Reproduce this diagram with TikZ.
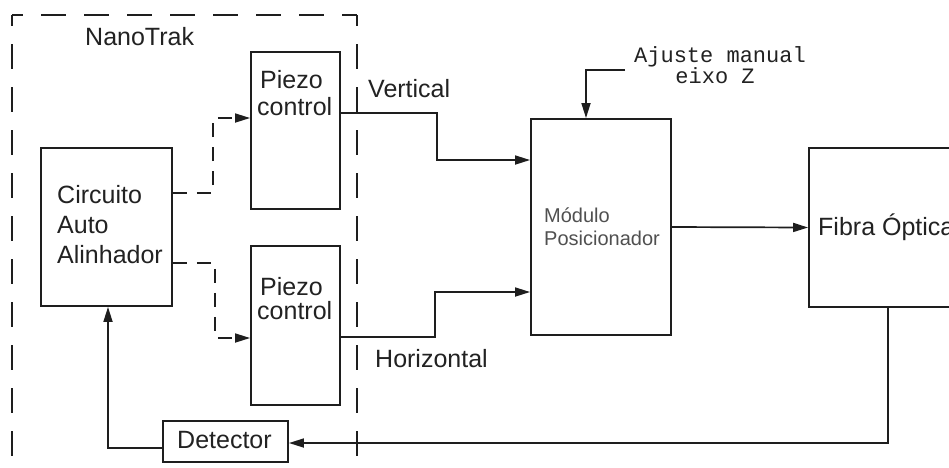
\documentclass[tikz,border=0pt]{standalone}
\usepackage{fontspec}
\setmainfont{Liberation Sans}
\newfontfamily\monof{Liberation Mono}
\usetikzlibrary{arrows.meta,calc}
\definecolor{ink}{HTML}{1E1E1E}
\definecolor{txt}{HTML}{222222}
\definecolor{soft}{HTML}{505050}
\begin{document}
\begin{tikzpicture}[x=1pt,y=-1pt,
  box/.style={draw=ink,line width=1.9pt,rectangle,inner sep=0pt},
  lbl/.style={anchor=base west,inner sep=0pt,text=txt,font=\fontsize{25}{30}\selectfont},
  small/.style={anchor=base west,inner sep=0pt,text=soft,font=\fontsize{20}{23}\selectfont},
  mono/.style={anchor=base,inner sep=0pt,text=txt,font=\monof\fontsize{22}{22}\selectfont},
  conn/.style={draw=ink,line width=1.7pt,-{Triangle[length=15pt,width=9pt]}},
  dconn/.style={conn,dash pattern=on 14pt off 10pt},
  frame/.style={draw=ink,line width=1.9pt,dash pattern=on 25pt off 18pt,dash phase=14pt}
]
\clip (0,0) rectangle (949,467);
\fill[white] (0,0) rectangle (949,467);

% dashed NanoTrak frame
\draw[frame] (12,15) -- (357,15);
\draw[frame] (12,15) -- (12,490);
\draw[frame] (357,15) -- (357,490);
\node[lbl] (nt) at (85,45) {NanoTrak};

% boxes
\node[box,minimum width=131pt,minimum height=158pt] (circ) at (106.5,227) {};
\node[box,minimum width=89pt,minimum height=157pt] (pz1) at (295.5,130.5) {};
\node[box,minimum width=89pt,minimum height=159pt] (pz2) at (295.5,325.5) {};
\node[box,minimum width=125pt,minimum height=41pt] (det) at (225.5,441.5) {};
\node[box,minimum width=140pt,minimum height=216pt] (mod) at (601,227) {};
\node[box,minimum width=160pt,minimum height=159pt] (fib) at (889,227.5) {};

% texts
\node[lbl] (c1) at (57,203) {Circuito};
\node[lbl] (c2) at (57,233) {Auto};
\node[lbl] (c3) at (57,263) {Alinhador};
\node[lbl] (p1a) at (260,88) {Piezo};
\node[lbl] (p1b) at (257,115) {control};
\node[lbl] (p2a) at (260,295) {Piezo};
\node[lbl] (p2b) at (257,319) {control};
\node[lbl] (dt) at (177,448) {Detector};
\node[lbl] (vt) at (368,97) {Vertical};
\node[lbl] (hz) at (375,367) {Horizontal};
\node[lbl] (fb) at (818,235) {Fibra Óptica};
\node[small] (m1) at (544,222) {Módulo};
\node[small] (m2) at (544,245) {Posicionador};
\node[mono] (aj1) at (720,62) {Ajuste manual};
\node[mono] (aj2) at (715,83) {eixo Z};

% turning points
\coordinate (d1) at (213,193);
\coordinate (d2) at (213,118);
\coordinate (d3) at (215,263);
\coordinate (d4) at (215,338);
\coordinate (v1) at (437,113);
\coordinate (v2) at (437,160);
\coordinate (h1) at (435,337);
\coordinate (h2) at (435,292);
\coordinate (ajs) at (625,70);
\coordinate (ajc) at (586,70);
\coordinate (fbk) at (888,443);
\coordinate (dc) at (108,448);

% connectors
\draw[dconn] (circ.east |- d1) -- (d1) -- (d2) -- (pz1.west |- d2);
\draw[dconn] (circ.east |- d3) -- (d3) -- (d4) -- (pz2.west |- d4);
\draw[conn] (pz1.east |- v1) -- (v1) -- (v2) -- (mod.west |- v2);
\draw[conn] (pz2.east |- h1) -- (h1) -- (h2) -- (mod.west |- h2);
\draw[conn] (ajs) -- (ajc) -- (mod.north -| ajc);
\draw[conn] (mod.east) -- (fib.west);
\draw[conn] (fib.south -| fbk) -- (fbk) -- (det.east |- fbk);
\draw[conn] (det.west |- dc) -- (dc) -- (circ.south -| dc);
\end{tikzpicture}
\end{document}
